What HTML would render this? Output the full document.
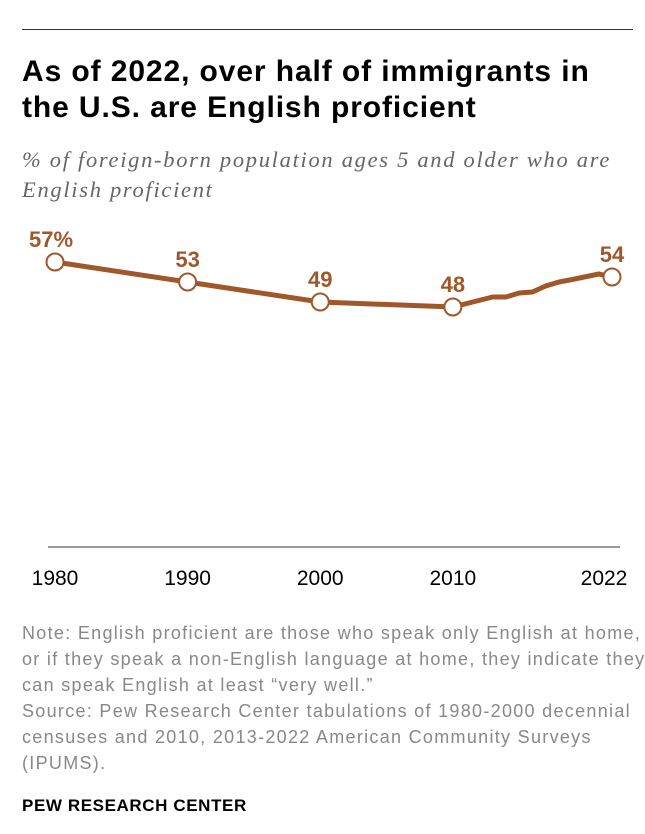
<!DOCTYPE html>
<html><head><meta charset="utf-8"><style>
body{margin:0;background:#fff;width:645px;height:834px;position:relative;font-family:"Liberation Sans",sans-serif;overflow:hidden}
.a{position:absolute;margin:0;white-space:nowrap}
</style></head><body>
<div class="a" style="left:22px;top:29px;width:611px;height:1px;background:#333"></div>
<h1 class="a" style="left:22px;top:54px;font-size:30px;line-height:36px;font-weight:bold;color:#000;letter-spacing:0.9px">As of 2022, over half of immigrants in<br>the U.S. are English proficient</h1>
<div class="a" style="left:22px;top:145px;font-family:'Liberation Serif',serif;font-style:italic;font-size:22.5px;line-height:30px;color:#666;letter-spacing:1.7px">% of foreign-born population ages 5 and older who are<br>English proficient</div>
<svg class="a" style="left:0;top:0" width="645" height="834">
<line x1="48" x2="620" y1="547" y2="547" stroke="#999" stroke-width="2"/>
<g id="g"></g>
</svg>
<div class="a" style="left:22px;top:620px;font-size:18px;line-height:26px;color:#888;letter-spacing:1.3px">Note: English proficient are those who speak only English at home,<br>or if they speak a non-English language at home, they indicate they<br>can speak English at least “very well.”<br>Source: Pew Research Center tabulations of 1980-2000 decennial<br>censuses and 2010, 2013-2022 American Community Surveys<br>(IPUMS).</div>
<div class="a" style="left:22px;top:796px;font-size:17px;font-weight:bold;color:#000;letter-spacing:0.6px">PEW RESEARCH CENTER</div>
<script>
const years=[1980,1990,2000,2010,2013,2014,2015,2016,2017,2018,2019,2021,2022];
const values=[57,53,49,48,50,50,50.8,51,52.2,53,53.5,54.6,54];
const labeledYears=[1980,1990,2000,2010,2022];
const labelTexts=["57%","53","49","48","54"];
const tickYears=[1980,1990,2000,2010,2022];
const X=y=>55+(y-1980)*(612-55)/42;
const Y=v=>547-v*5;
const NS="http://www.w3.org/2000/svg",g=document.getElementById('g');
function mk(t,a){const e=document.createElementNS(NS,t);for(const k in a)e.setAttribute(k,a[k]);g.appendChild(e);return e;}
const line=mk('polyline',{points:years.map((y,i)=>X(y)+','+Y(values[i])).join(' '),fill:'none',stroke:'#A0572A','stroke-width':5,'stroke-linejoin':'round'});


labeledYears.forEach((yr,j)=>{const i=years.indexOf(yr);
const c=mk('circle',{cx:X(yr),cy:Y(values[i]),r:8.5,fill:'#fff',stroke:'#A0572A','stroke-width':2});


const t=mk('text',{x:X(yr)+(j==0?-26:0),y:Y(values[i])-15,'text-anchor':j==0?'start':'middle','font-size':22,'font-weight':'bold',fill:'#A0572A','font-family':'Liberation Sans'});
t.textContent=labelTexts[j];

});
tickYears.forEach(yr=>{const t=mk('text',{x:yr==2022?X(yr)-8:X(yr),y:585,'text-anchor':'middle','font-size':21,fill:'#000','font-family':'Liberation Sans'});
t.textContent=yr;

});
</script>
</body></html>
